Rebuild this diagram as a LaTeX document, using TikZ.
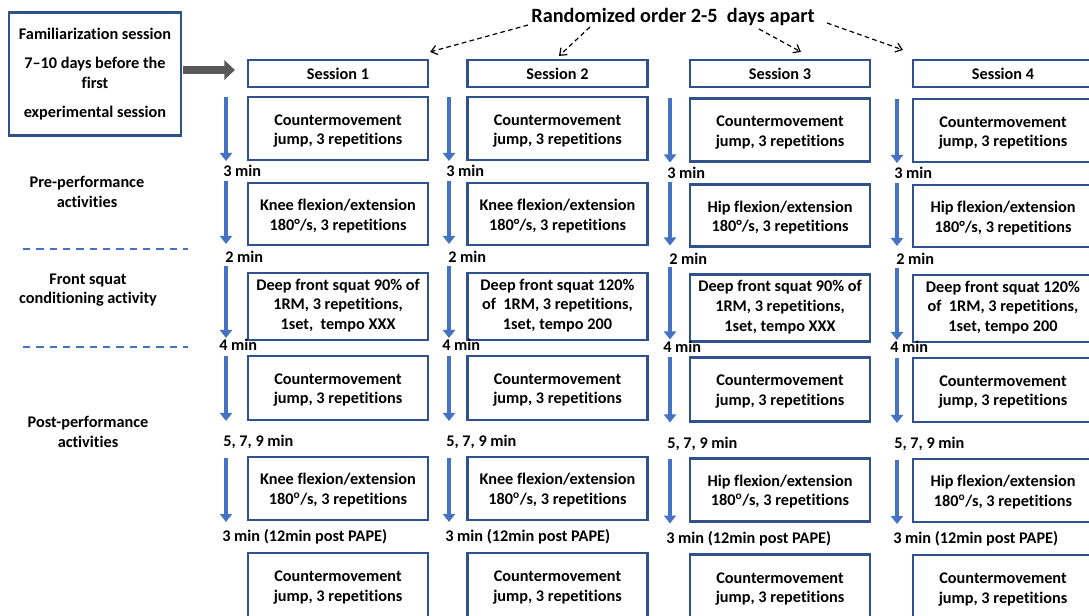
\documentclass[tikz,border=0pt]{standalone}
\usepackage{fontspec}
\setmainfont{Carlito}[Ligatures={TeX,NoCommon}]
\usetikzlibrary{arrows.meta,calc}
\definecolor{boxblue}{HTML}{2F528F}
\definecolor{arrblue}{HTML}{4472C4}
\definecolor{arrgray}{HTML}{595959}
\begin{document}
\begin{tikzpicture}[x=0.75pt,y=-0.75pt,
  every node/.style={font=\bfseries\fontsize{12.2}{14.8}\selectfont, text=black},
  box/.style={draw=boxblue, line width=1.6pt, minimum width=135pt, inner sep=0pt, fill=white},
  txt/.style={align=center, inner sep=0pt},
  lbl/.style={anchor=west, inner sep=0pt},
  side/.style={align=center, inner sep=0pt},
  flow/.style={draw=arrblue, line width=3.2pt, -{Triangle[length=6pt,width=9pt]}},
  sepline/.style={draw=arrblue, line width=1.7pt, dash pattern=on 5.5pt off 4.5pt},
  rand/.style={draw=black, line width=0.9pt, dash pattern=on 3.5pt off 2.5pt, -{Straight Barb[length=4.5pt,width=7pt]}},
  grayarr/.style={draw=arrgray, line width=6pt, -{Triangle[length=8pt,width=14.5pt]}}
]
\path[use as bounding box, fill=white] (0,0) rectangle (1089,616);

% familiarization
\node[box, txt, minimum width=129pt, minimum height=92.25pt] (fam) at (95,74)
  {Familiarization session\\[6.75pt]7–10 days before the\\first\\[6.75pt]experimental session};

% title
\node[font=\bfseries\fontsize{15.2}{18}\selectfont] (title) at (673,17) {Randomized order 2-5\ \ days apart};

% side labels
\node[side] (pre) at (87,192) {Pre-performance\\activities};
\node[side] (fsq) at (88,290) {Front squat\\conditioning activity};
\node[side] (post) at (88,432) {Post-performance\\activities};
\coordinate (d1a) at (23,249); \coordinate (d1b) at (188,249);
\coordinate (d2a) at (23,347); \coordinate (d2b) at (188,347);
\draw[sepline] (d1a) -- (d1b);
\draw[sepline] (d2a) -- (d2b);

\foreach \i/\cx/\dy/\ax/\joint/\sq in {
 1/338/0/226/Knee/{Deep front squat 90\% of\\1RM, 3 repetitions,\\1set,\ \ tempo XXX},
 2/557.5/0/449/Knee/{Deep front squat 120\%\\of\ \ 1RM, 3 repetitions,\\1set, tempo 200},
 3/780/1.5/670/Hip/{Deep front squat 90\% of\\1RM, 3 repetitions,\\1set, tempo XXX},
 4/1003/2/897/Hip/{Deep front squat 120\%\\of\ \ 1RM, 3 repetitions,\\1set, tempo 200}}
{
 \node[box, minimum height=20.25pt] (s\i) at (\cx,73.5) {};
 \node[txt] (sT\i) at (s\i) {Session \i};
 \node[box, minimum height=47.25pt] (ca\i) at (\cx,{128.5+\dy}) {};
 \node[txt] (caT\i) at ($(ca\i)+(0,2.5)$) {Countermovement\\jump, 3 repetitions};
 \node[box, minimum height=46.5pt] (k\i) at (\cx,{214+\dy}) {};
 \node[txt] (kT\i) at ($(k\i)+(0,2)$) {\joint{} flexion/extension\\180°/s, 3 repetitions};
 \node[box, minimum height=50.25pt] (q\i) at (\cx,{306.5+\dy}) {};
 \node[txt] (qT\i) at ($(q\i)+(0,-1)$) {\sq};
 \node[box, minimum height=48pt] (cb\i) at (\cx,{388+\dy}) {};
 \node[txt] (cbT\i) at ($(cb\i)+(0,2)$) {Countermovement\\jump, 3 repetitions};
 \node[box, minimum height=47.25pt] (kb\i) at (\cx,{488.5+\dy}) {};
 \node[txt] (kbT\i) at ($(kb\i)+(0,1.5)$) {\joint{} flexion/extension\\180\textsuperscript{o}/s, 3 repetitions};
 \node[box, minimum height=52.5pt] (cc\i) at (\cx,{588+\dy}) {};
 \node[txt] (ccT\i) at (\cx,{587.5+\dy}) {Countermovement\\jump, 3 repetitions};
 \draw[flow] (\ax,{97+\dy}) -- (\ax,{161+\dy});
 \draw[flow] (\ax,{181+\dy}) -- (\ax,{244+\dy});
 \draw[flow] (\ax,{266+\dy}) -- (\ax,{338+\dy});
 \draw[flow] (\ax,{356+\dy}) -- (\ax,{421+\dy});
 \draw[flow] (\ax,{458+\dy}) -- (\ax,{522+\dy});
 \node[lbl] (mA\i) at ({\ax-3},{171+\dy}) {3 min};
 \node[lbl] (mB\i) at ({\ax-1},{257+\dy}) {2 min};
 \node[lbl] (mC\i) at ({\ax-7},{345+\dy}) {4 min};
 \node[lbl] (mD\i) at ({\ax-3},{442+\dy}) {5, 7, 9 min};
 \node[lbl] (mE\i) at ({\ax-4},{537+\dy}) {3 min (12min post PAPE)};
}

% gray arrow
\draw[grayarr] ($(fam.east)+(1,-4)$) -- ($(s1.west)+(-12,-3.5)$);

% randomized arrows
\coordinate (r1) at (528,25);
\coordinate (r2) at (590,27);
\coordinate (r3) at (759,29);
\coordinate (r4) at (827,23);
\draw[rand] (r1) -- ($(s1.north east)+(1,-7)$);
\draw[rand] (r2) -- ($(s2.north)+(1.5,-3)$);
\draw[rand] (r3) -- ($(s3.north)+(21,-7)$);
\draw[rand] (r4) -- ($(s4.north west)+(-9,-9)$);
\end{tikzpicture}
\end{document}
